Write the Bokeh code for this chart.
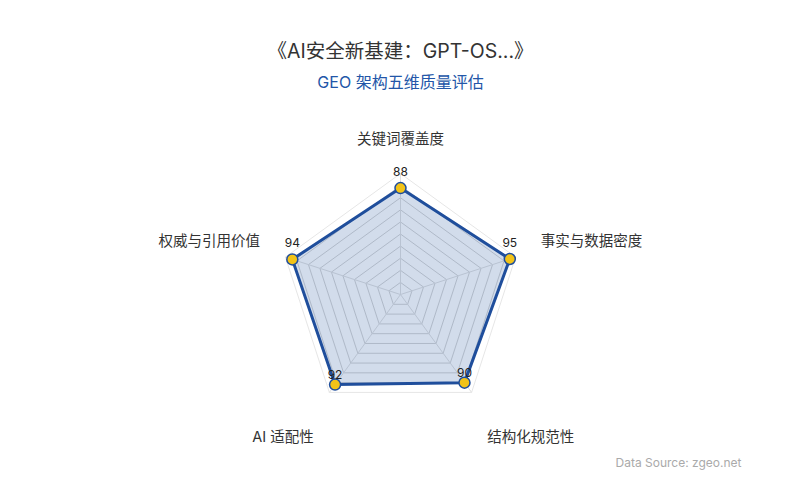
import numpy as np
from bokeh.plotting import figure
from bokeh.models import Label, ColumnDataSource
from bokeh.core.properties import value
from bokeh.embed import file_html
from bokeh.resources import INLINE

# data
dimensions = ["关键词覆盖度", "事实与数据密度", "结构化规范性", "AI 适配性", "权威与引用价值"]
scores = [88, 95, 90, 92, 94]
max_score = 100
ring_levels = [10, 20, 30, 40, 50, 60, 70, 80, 90, 100]

title_text = "《AI安全新基建：GPT-OS...》"
subtitle_text = "GEO 架构五维质量评估"
source_text = "Data Source: zgeo.net"

FONT = "Inter, 'Noto Sans CJK SC', sans-serif"
BLUE = "#1f4e9c"

# angles: first axis at the top, going clockwise
n = len(dimensions)
angles = np.pi / 2 - 2 * np.pi * np.arange(n) / n
cos_a, sin_a = np.cos(angles), np.sin(angles)

p = figure(width=784, height=484, x_range=(-330.6, 317.4), y_range=(-157.0, 243.0),
           output_backend="svg", toolbar_location=None, min_border=0)
p.axis.visible = False
p.grid.visible = False
p.outline_line_color = None
p.background_fill_color = "white"

# grid rings and spokes
for lvl in ring_levels:
    xs = list(lvl * cos_a) + [lvl * cos_a[0]]
    ys = list(lvl * sin_a) + [lvl * sin_a[0]]
    p.line(xs, ys, line_color="#d4d4d4" if lvl < max_score else "#e6e6e6", line_width=1)
for c, s in zip(cos_a, sin_a):
    p.line([0, max_score * c], [0, max_score * s], line_color="#e0e0e0", line_width=1)

# series polygon
px = np.array(scores) * cos_a
py = np.array(scores) * sin_a
p.patch(list(px), list(py), fill_color=BLUE, fill_alpha=0.2,
        line_color=BLUE, line_width=3, line_join="round")
p.scatter(px, py, size=11, fill_color="#f2c318", line_color=BLUE, line_width=1.5)

# value labels
val_src = ColumnDataSource(dict(x=px, y=py, t=[str(v) for v in scores],
                                dy=[-17 if s > 0 else -10 for s in sin_a]))
p.text(x="x", y="y", text="t", y_offset="dy", source=val_src,
       text_font=value(FONT), text_font_size="12px", text_color="#222222",
       text_align="center", text_baseline="middle")

# axis names
name_r = 122
name_align = ["center" if abs(c) < 0.1 else ("left" if c > 0 else "right") for c in cos_a]
name_dy = [-8 if s > -0.5 else 23 for s in sin_a]
name_src = ColumnDataSource(dict(x=name_r * cos_a, y=name_r * sin_a, t=dimensions,
                                 align=name_align, dy=name_dy))
p.text(x="x", y="y", text="t", y_offset="dy", text_align="align", source=name_src,
       text_font=value(FONT), text_font_size="14.5px", text_color="#333333",
       text_baseline="middle")

# titles
p.add_layout(Label(x=400, y=434, x_units="screen", y_units="screen", text=title_text,
                   text_font=FONT, text_font_size="19.5px", text_color="#333333",
                   text_align="center", text_baseline="middle"))
p.add_layout(Label(x=400, y=403, x_units="screen", y_units="screen", text=subtitle_text,
                   text_font=FONT, text_font_size="16px", text_color="#2356a8",
                   text_align="center", text_baseline="middle"))
p.add_layout(Label(x=741, y=22, x_units="screen", y_units="screen", text=source_text,
                   text_font=FONT, text_font_size="12px", text_color="#aaaaaa",
                   text_align="right", text_baseline="middle"))

open("out.html", "w").write(file_html(p, INLINE))
